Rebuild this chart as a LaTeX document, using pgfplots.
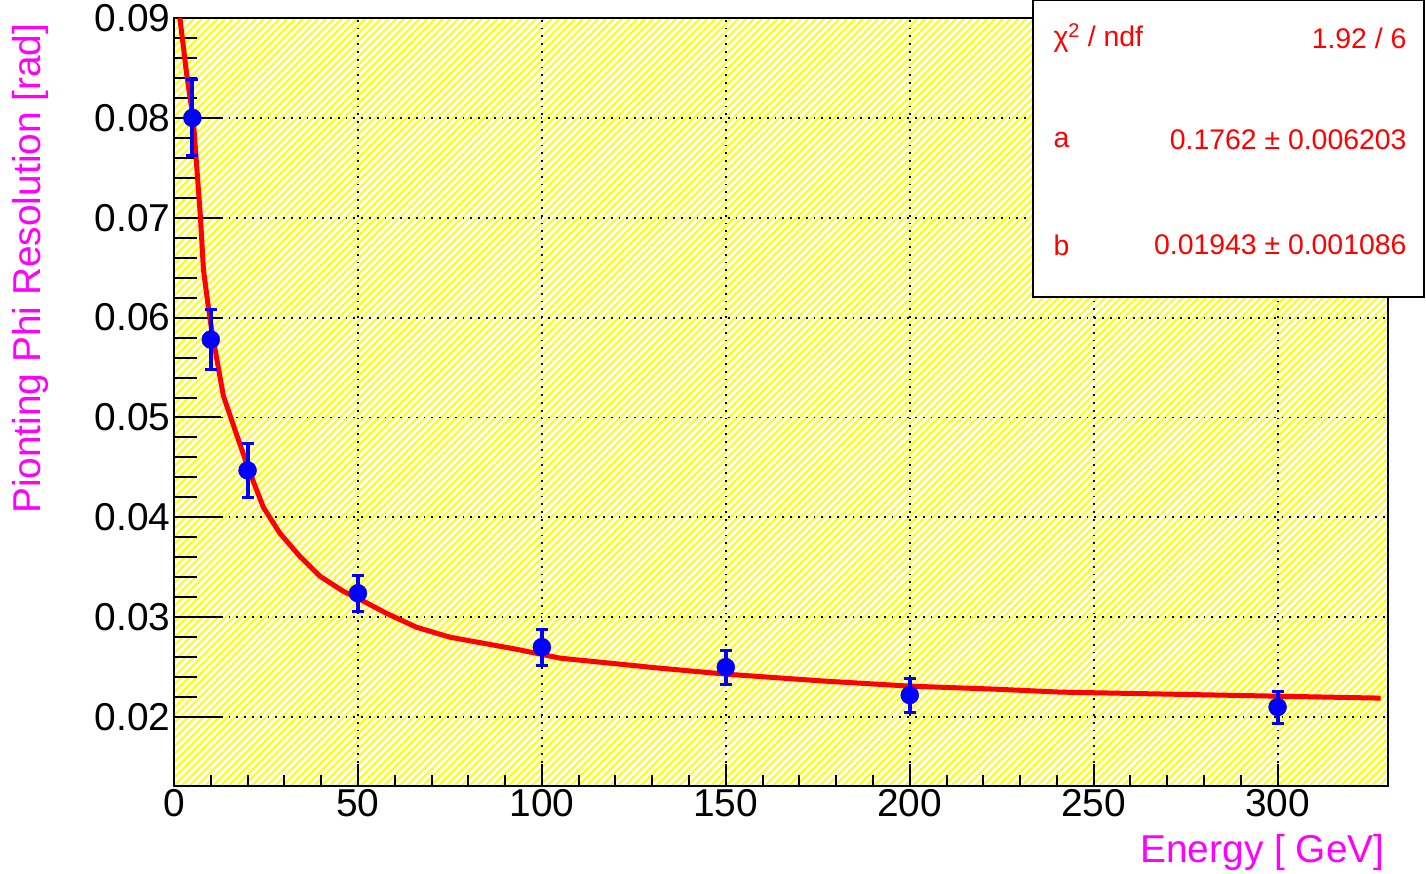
\documentclass[border=0pt]{standalone}
\usepackage{fontspec}
\setmainfont{Liberation Sans}
\usepackage{pgfplots}
\pgfplotsset{compat=1.18}
\usetikzlibrary{patterns.meta}
\definecolor{rootmag}{RGB}{255,0,255}
\definecolor{rootblue}{RGB}{0,0,255}
\definecolor{rootred}{RGB}{255,0,0}
\definecolor{rootyellow}{RGB}{255,255,0}

\pgfplotstableread{
x y err
5 0.0800 0.0038
10 0.0578 0.0030
20 0.0447 0.0027
50 0.0324 0.0018
100 0.0270 0.0018
150 0.0250 0.0017
200 0.0222 0.0017
300 0.0210 0.0016
}\datatable

\pgfplotstableread{
x y
1.6 0.0900
3.4 0.0845
5.25 0.0798
7.2 0.0700
8.0 0.0648
9.8 0.0598
10.7 0.0578
13.4 0.0522
17 0.0483
20.5 0.0446
24.3 0.0410
28.8 0.0384
34.2 0.0361
39.7 0.0341
46 0.0326
50 0.0319
57.7 0.0304
65.9 0.0290
75 0.0280
84 0.0274
93 0.0268
105 0.0259
132 0.0249
150 0.0243
177 0.0236
200 0.0231
223 0.0228
241 0.0225
270 0.0223
328 0.0219
}\fittable

\pgfplotsset{
  rootbase/.style={
    at={(0,0)}, anchor=south west,
    scale only axis, width=1214bp, height=768bp,
    xmin=0, xmax=330, ymin=0.0131, ymax=0.09,
    tick pos=left, tick align=inside,
    axis line style={line width=2bp},
    every tick/.style={black, line width=2bp},
    major grid style={black, line width=1.8bp, dash pattern=on 1.8bp off 6bp},
    tick label style={font=\fontsize{39}{44}\selectfont},
    /pgf/number format/assume math mode=true,
    scaled y ticks=false,
    clip=false,
  }
}

\begin{document}
\begin{tikzpicture}
\useasboundingbox (-174bp,-88bp) rectangle (1252bp,786bp);
% axis 1: background, y ticks, y grid
\begin{axis}[rootbase,
  xtick=\empty,
  ytick={0.02,0.03,0.04,0.05,0.06,0.07,0.08,0.09},
  minor y tick num=4,
  major tick length=47bp, minor tick length=23bp,
  ymajorgrids,
  axis background/.style={pattern={Lines[angle=45,distance=5.5bp,line width=2bp]}, pattern color=rootyellow},
  yticklabel style={/pgf/number format/.cd, fixed, fixed zerofill, precision=2},
]
\end{axis}
% axis 2: x ticks, x grid, data
\begin{axis}[rootbase,
  ytick=\empty,
  xtick={0,50,100,150,200,250,300},
  minor x tick num=4,
  major tick length=22bp, minor tick length=11bp,
  xmajorgrids,
  xticklabel style={/pgf/number format/.cd, fixed},
]
\addplot[rootred, line width=5bp, no marks] table[x=x,y=y] {\fittable};
\addplot[rootblue, only marks, mark=*, mark size=9bp,
  error bars/.cd, y dir=both, y explicit,
  error bar style={rootblue, line width=4bp},
  error mark options={rootblue, line width=3bp, mark size=6bp, rotate=90}]
  table[x=x, y=y, y error=err] {\datatable};
\end{axis}
\node[rotate=90, anchor=east, text=rootmag, font=\fontsize{39}{44}\selectfont] at (-144bp,766bp) {Pionting Phi Resolution [rad]};
\node[anchor=east, text=rootmag, font=\fontsize{39}{44}\selectfont] at (1214bp,-66bp) {Energy [ GeV]};
\draw[black, line width=2bp, fill=white] (859bp,786bp) rectangle (1250bp,489bp);
\begin{scope}[every node/.style={text=rootred, font=\fontsize{28.5}{32}\selectfont}]
\node[anchor=west] at (876bp,748bp) {χ\textsuperscript{2} / ndf};
\node[anchor=east] at (1236bp,748bp) {1.92 / 6};
\node[anchor=west] at (876bp,646bp) {a};
\node[anchor=east] at (1236bp,646bp) {0.1762 ± 0.006203};
\node[anchor=west] at (876bp,541bp) {b};
\node[anchor=east] at (1236bp,541bp) {0.01943 ± 0.001086};
\end{scope}
\end{tikzpicture}
\end{document}
